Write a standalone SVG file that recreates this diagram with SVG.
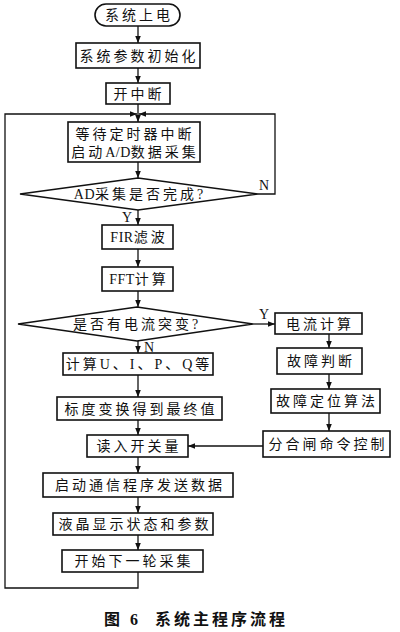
<svg xmlns="http://www.w3.org/2000/svg" width="400" height="632" viewBox="0 0 400 632">
<defs>
<marker id="ah" viewBox="0 0 10 10" refX="10" refY="5" markerWidth="7" markerHeight="7" markerUnits="userSpaceOnUse" orient="auto">
<path d="M0,1 L10,5 L0,9 Z" fill="#111"/>
</marker>
</defs>
<style>
.box{fill:#fff;stroke:#111;stroke-width:1.6}
.ln{fill:none;stroke:#111;stroke-width:1.3}
.t{font-family:"Liberation Serif","Noto Sans CJK SC",serif;font-size:14px;letter-spacing:3px;fill:#111;text-anchor:middle}
.lat{letter-spacing:0.5px}
.lbl{font-family:"Liberation Serif","Noto Sans CJK SC",serif;font-size:14px;fill:#111}
.cap{font-family:"Liberation Serif","Noto Sans CJK SC",serif;font-size:16px;font-weight:bold;letter-spacing:3px;fill:#111;text-anchor:middle}
</style>
<rect width="400" height="632" fill="#fff"/>
<g id="connectors">
<path class="ln" d="M138,26 V43" marker-end="url(#ah)"/>
<path class="ln" d="M138,68 V83" marker-end="url(#ah)"/>
<path class="ln" d="M138,104 V122" marker-end="url(#ah)"/>
<path class="ln" d="M138,162 V178" marker-end="url(#ah)"/>
<path class="ln" d="M138,210 V225" marker-end="url(#ah)"/>
<path class="ln" d="M138,249 V267" marker-end="url(#ah)"/>
<path class="ln" d="M138,291 V307" marker-end="url(#ah)"/>
<path class="ln" d="M138,341 V353" marker-end="url(#ah)"/>
<path class="ln" d="M138,375 V397" marker-end="url(#ah)"/>
<path class="ln" d="M138,420 V435" marker-end="url(#ah)"/>
<path class="ln" d="M138,457 V473" marker-end="url(#ah)"/>
<path class="ln" d="M138,497 V513" marker-end="url(#ah)"/>
<path class="ln" d="M138,535 V550" marker-end="url(#ah)"/>
<path class="ln" d="M138,572 V588 H5 V114 H137" marker-end="url(#ah)"/>
<path class="ln" d="M258,194 H275 V114 H139" marker-end="url(#ah)"/>
<path class="ln" d="M253,324 H275" marker-end="url(#ah)"/>
<path class="ln" d="M329,334 V348" marker-end="url(#ah)"/>
<path class="ln" d="M329,374 V389" marker-end="url(#ah)"/>
<path class="ln" d="M329,413 V431" marker-end="url(#ah)"/>
<path class="ln" d="M263,446 H188" marker-end="url(#ah)"/>
<text class="lbl" x="259" y="190">N</text>
<text class="lbl" x="122" y="222">Y</text>
<text class="lbl" x="259" y="319">Y</text>
<text class="lbl" x="144" y="352">N</text>
</g>
<g id="start"><rect class="box" x="95" y="4" width="85" height="22" rx="11"/><text class="t" x="139" y="20">系统上电</text></g>
<g id="init"><rect class="box" x="76" y="43" width="124" height="25"/><text class="t" x="139" y="61">系统参数初始化</text></g>
<g id="intr"><rect class="box" x="106" y="83" width="64" height="21"/><text class="t" x="139" y="99">开中断</text></g>
<g id="wait"><rect class="box" x="68" y="122" width="132" height="40"/><text class="t" x="135" y="139">等待定时器中断</text><text class="t" x="135" y="157">启动<tspan class="lat">A/D</tspan>数据采集</text></g>
<g id="adq"><polygon class="box" points="20,194 138,178 258,194 138,210"/><text class="t" x="140" y="199"><tspan class="lat">AD</tspan>采集是否完成?</text></g>
<g id="fir"><rect class="box" x="102" y="225" width="71" height="24"/><text class="t" x="139" y="242"><tspan class="lat">FIR</tspan>滤波</text></g>
<g id="fft"><rect class="box" x="102" y="267" width="71" height="24"/><text class="t" x="139" y="284"><tspan class="lat">FFT</tspan>计算</text></g>
<g id="jump"><polygon class="box" points="18,324 137,307 253,324 137,341"/><text class="t" x="137" y="329">是否有电流突变?</text></g>
<g id="calc"><rect class="box" x="63" y="353" width="150" height="22"/><text class="t" x="139" y="369">计算U、I、P、Q等</text></g>
<g id="scale"><rect class="box" x="57" y="397" width="165" height="23"/><text class="t" x="141" y="414">标度变换得到最终值</text></g>
<g id="readsw"><rect class="box" x="87" y="435" width="101" height="22"/><text class="t" x="139" y="451">读入开关量</text></g>
<g id="comm"><rect class="box" x="43" y="473" width="190" height="24"/><text class="t" x="140" y="490">启动通信程序发送数据</text></g>
<g id="lcd"><rect class="box" x="53" y="513" width="160" height="22"/><text class="t" x="135" y="529">液晶显示状态和参数</text></g>
<g id="next"><rect class="box" x="62" y="550" width="141" height="22"/><text class="t" x="134" y="566">开始下一轮采集</text></g>
<g id="icalc"><rect class="box" x="275" y="313" width="87" height="21"/><text class="t" x="320" y="329">电流计算</text></g>
<g id="fault"><rect class="box" x="277" y="348" width="85" height="26"/><text class="t" x="321" y="366">故障判断</text></g>
<g id="locate"><rect class="box" x="271" y="389" width="109" height="24"/><text class="t" x="327" y="406">故障定位算法</text></g>
<g id="ctrl"><rect class="box" x="263" y="431" width="127" height="26"/><text class="t" x="328" y="449">分合闸命令控制</text></g>
<text class="cap" x="196" y="625" xml:space="preserve">图 6  系统主程序流程</text>
</svg>
